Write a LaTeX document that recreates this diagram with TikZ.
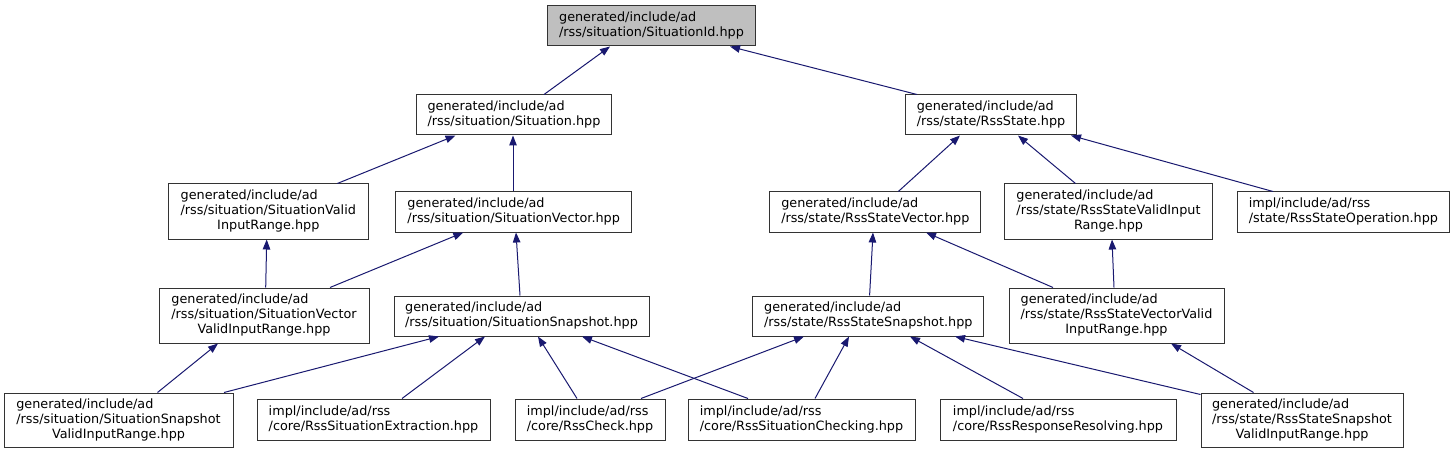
\documentclass[tikz,border=0pt]{standalone}
\usepackage{fontspec}
\setmainfont{DejaVu Sans}
\usetikzlibrary{arrows.meta}
\definecolor{edgeblue}{HTML}{191970}
\definecolor{rootgray}{HTML}{BFBFBF}
\definecolor{boxline}{HTML}{333333}
\newcommand\twolines[2]{\begin{tabular}{@{}l@{}}#1\\#2\end{tabular}}
\newcommand\threelines[3]{\begin{tabular}{@{}l@{}}#1\\#2\\\multicolumn{1}{@{}c@{}}{#3}\end{tabular}}
\begin{document}
\begin{tikzpicture}[x=1pt,y=1pt,
  file/.style={draw=boxline, line width=1pt, fill=white, inner sep=0pt,
    font=\fontsize{12.8}{15}\selectfont, align=center},
  two/.style={file, minimum height=40pt},
  three/.style={file, minimum height=55pt},
  edge/.style={draw=edgeblue, line width=1pt, -{Triangle[length=10pt,width=7.5pt]}}]
\useasboundingbox[fill=white] (0,0) rectangle (1455,453);

% row 1
\node[two, fill=rootgray, minimum width=208pt] (root) at (651.5,427)
  {\twolines{generated/include/ad}{/rss/situation/SituationId.hpp}};
% row 2
\node[two, minimum width=195pt] (sit) at (514,338)
  {\twolines{generated/include/ad}{/rss/situation/Situation.hpp}};
\node[two, minimum width=171pt] (rss) at (991,338)
  {\twolines{generated/include/ad}{/rss/state/RssState.hpp}};
% row 3
\node[three, minimum width=200pt] (svir) at (268.3,241.5)
  {\threelines{generated/include/ad}{/rss/situation/SituationValid}{InputRange.hpp}};
\node[two, minimum width=236pt] (sv) at (513.7,241)
  {\twolines{generated/include/ad}{/rss/situation/SituationVector.hpp}};
\node[two, minimum width=211pt] (rsv) at (875.3,241)
  {\twolines{generated/include/ad}{/rss/state/RssStateVector.hpp}};
\node[three, minimum width=208pt] (rsvir) at (1108.5,241.5)
  {\threelines{generated/include/ad}{/rss/state/RssStateValidInput}{Range.hpp}};
\node[two, minimum width=212pt] (rsop) at (1343.4,241)
  {\twolines{impl/include/ad/rss}{/state/RssStateOperation.hpp}};
% row 4
\node[three, minimum width=210pt] (svvir) at (264,137.5)
  {\threelines{generated/include/ad}{/rss/situation/SituationVector}{ValidInputRange.hpp}};
\node[two, minimum width=255pt] (ss) at (521.5,137)
  {\twolines{generated/include/ad}{/rss/situation/SituationSnapshot.hpp}};
\node[two, minimum width=231pt] (rsss) at (868.3,137)
  {\twolines{generated/include/ad}{/rss/state/RssStateSnapshot.hpp}};
\node[three, minimum width=215pt] (rsvvir) at (1116.5,137.5)
  {\threelines{generated/include/ad}{/rss/state/RssStateVectorValid}{InputRange.hpp}};
% row 5
\node[three, minimum width=229pt, minimum height=54pt] (ssvir) at (118.5,33)
  {\threelines{generated/include/ad}{/rss/situation/SituationSnapshot}{ValidInputRange.hpp}};
\node[two, minimum width=233pt, minimum height=41pt] (rse) at (373.5,33.5)
  {\twolines{impl/include/ad/rss}{/core/RssSituationExtraction.hpp}};
\node[two, minimum width=150pt, minimum height=41pt] (rc) at (590,33.5)
  {\twolines{impl/include/ad/rss}{/core/RssCheck.hpp}};
\node[two, minimum width=227pt, minimum height=41pt] (rsc) at (801.5,33.5)
  {\twolines{impl/include/ad/rss}{/core/RssSituationChecking.hpp}};
\node[two, minimum width=236pt, minimum height=41pt] (rrr) at (1058,33.5)
  {\twolines{impl/include/ad/rss}{/core/RssResponseResolving.hpp}};
\node[three, minimum width=202pt, minimum height=54pt] (rssvir) at (1302,33)
  {\threelines{generated/include/ad}{/rss/state/RssStateSnapshot}{ValidInputRange.hpp}};

% edges (child -> parent)
\draw[edge] ([xshift=30pt]sit.north) -- ([xshift=-41.5pt]root.south);
\draw[edge] ([xshift=-74pt]rss.north) -- ([xshift=78.5pt]root.south);
\draw[edge] ([xshift=69pt]svir.north) -- ([xshift=-58.5pt]sit.south);
\draw[edge] ([xshift=-0.7pt]sv.north) -- ([xshift=-1pt]sit.south);
\draw[edge] ([xshift=23pt]rsv.north) -- ([xshift=-31pt]rss.south);
\draw[edge] ([xshift=-33pt]rsvir.north) -- ([xshift=27pt]rss.south);
\draw[edge] ([xshift=-70.4pt]rsop.north) -- ([xshift=80pt]rss.south);
\draw[edge] ([xshift=1.7pt]svvir.north) -- ([xshift=-1.6pt]svir.south);
\draw[edge] ([xshift=66pt]svvir.north) -- ([xshift=-50.4pt]sv.south);
\draw[edge] ([xshift=-1.5pt]ss.north) -- ([xshift=2.3pt]sv.south);
\draw[edge] ([xshift=1.3pt]rsss.north) -- ([xshift=-2.3pt]rsv.south);
\draw[edge] ([xshift=-63.5pt]rsvvir.north) -- ([xshift=50.7pt]rsv.south);
\draw[edge] ([xshift=-2.5pt]rsvvir.north) -- ([xshift=3.5pt]rsvir.south);
\draw[edge] ([xshift=39pt]ssvir.north) -- ([xshift=-46pt]svvir.south);
\draw[edge] ([xshift=105.5pt]ssvir.north) -- ([xshift=-82.5pt]ss.south);
\draw[edge] ([xshift=28.5pt]rse.north) -- ([xshift=-36.5pt]ss.south);
\draw[edge] ([xshift=-13pt]rc.north) -- ([xshift=16.5pt]ss.south);
\draw[edge] ([xshift=-53.5pt]rsc.north) -- ([xshift=60.5pt]ss.south);
\draw[edge] ([xshift=51pt]rc.north) -- ([xshift=-64.3pt]rsss.south);
\draw[edge] ([xshift=13.5pt]rsc.north) -- ([xshift=-19.3pt]rsss.south);
\draw[edge] ([xshift=-35pt]rrr.north) -- ([xshift=41.7pt]rsss.south);
\draw[edge] ([yshift=-2pt]rssvir.north west) -- ([xshift=86.7pt]rsss.south);
\draw[edge] ([xshift=-48.5pt]rssvir.north) -- ([xshift=54.5pt]rsvvir.south);
\end{tikzpicture}
\end{document}
